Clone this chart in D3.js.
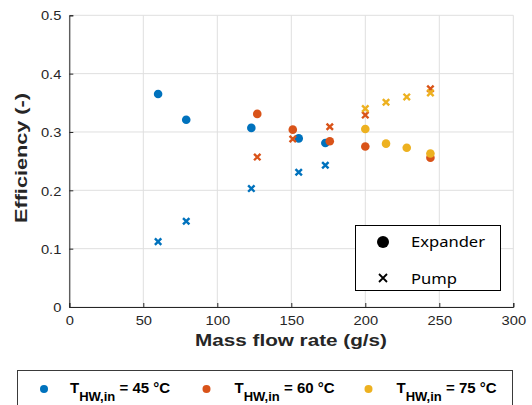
<!DOCTYPE html>
<html><head><meta charset="utf-8">
<script src="https://cdn.jsdelivr.net/npm/d3@7"></script>
<style>body{margin:0;background:#fff}svg{display:block}</style>
</head><body>
<svg id="c" width="532" height="405"></svg>
<script>
// ---- data ----
const seriesNames = ["45", "60", "75"];
const seriesColors = ["#0072BD", "#D95319", "#EDB120"];
const flow45 = [60, 79, 123, 155, 173];
const exp45  = [0.365, 0.321, 0.307, 0.289, 0.281];
const pump45 = [0.112, 0.147, 0.203, 0.231, 0.243];
const flow60 = [127, 151, 176, 200, 244];
const exp60  = [0.331, 0.304, 0.284, 0.275, 0.256];
const pump60 = [0.257, 0.288, 0.309, 0.329, 0.374];
const flow75 = [200, 214, 228, 244];
const exp75  = [0.305, 0.280, 0.273, 0.263];
const pump75 = [0.340, 0.351, 0.360, 0.367];
const xTicks = [0, 50, 100, 150, 200, 250, 300];
const yTicks = [0, 0.1, 0.2, 0.3, 0.4, 0.5];
const xLabel = "Mass flow rate (g/s)";
const yLabel = "Efficiency (-)";

const series = [
  {name: seriesNames[0], color: seriesColors[0], flow: flow45, exp: exp45, pump: pump45},
  {name: seriesNames[1], color: seriesColors[1], flow: flow60, exp: exp60, pump: pump60},
  {name: seriesNames[2], color: seriesColors[2], flow: flow75, exp: exp75, pump: pump75}
];

const svg = d3.select("#c");
const x = d3.scaleLinear().domain([0, 300]).range([69.3, 513.3]);
const y = d3.scaleLinear().domain([0, 0.5]).range([307, 15.3]);
const tickFont = "'Liberation Sans', Arial, sans-serif";

// grid
const grid = svg.append("g");
grid.selectAll(".gx").data(xTicks).join("line")
  .attr("x1", d => x(d)).attr("x2", d => x(d)).attr("y1", y(0)).attr("y2", y(0.5))
  .attr("stroke", "#dfdfdf").attr("stroke-width", 1);
grid.selectAll(".gy").data(yTicks).join("line")
  .attr("x1", x(0)).attr("x2", x(300)).attr("y1", d => y(d)).attr("y2", d => y(d))
  .attr("stroke", "#dfdfdf").attr("stroke-width", 1);

// axes
const xAxis = svg.append("g").attr("transform", `translate(0,${y(0)})`)
  .call(d3.axisBottom(x).tickValues(xTicks).tickSize(-4).tickPadding(9).tickFormat(d3.format("d")));
const yAxis = svg.append("g").attr("transform", `translate(${x(0)},0)`)
  .call(d3.axisLeft(y).tickValues(yTicks).tickSize(-4).tickPadding(8).tickFormat(d => d === 0 ? "0" : d3.format(".1f")(d)));
[xAxis, yAxis].forEach(a => {
  a.select(".domain").attr("stroke", "#262626");
  a.selectAll(".tick line").attr("stroke", "#262626");
  a.selectAll(".tick text").attr("fill", "#262626").style("font-family", tickFont).style("font-size", "13px");
});
yAxis.selectAll(".tick text").attr("dy", "0.36em");
xAxis.selectAll(".tick text").attr("dy", "0.72em");
[xAxis, yAxis].forEach(a => a.selectAll(".tick text").each(function(){
  const w = this.getComputedTextLength();
  d3.select(this).attr("textLength", w * 1.13).attr("lengthAdjust", "spacingAndGlyphs");
}));

// axis labels
svg.append("text").attr("x", 291).attr("y", 346).attr("text-anchor", "middle")
  .style("font-family", tickFont).style("font-size", "17px").style("font-weight", "bold")
  .attr("fill", "#262626").attr("textLength", 192).attr("lengthAdjust", "spacingAndGlyphs").text(xLabel);
svg.append("text").attr("transform", "translate(27,158) rotate(-90)").attr("text-anchor", "middle")
  .style("font-family", tickFont).style("font-size", "17px").style("font-weight", "bold")
  .attr("fill", "#262626").attr("textLength", 130).attr("lengthAdjust", "spacingAndGlyphs").text(yLabel);

// marks
const crossPath = s => `M${-s},${-s}L${s},${s}M${-s},${s}L${s},${-s}`;
const marks = svg.append("g");
series.forEach(s => {
  const g = marks.append("g");
  g.selectAll("circle").data(s.flow.map((f, i) => [f, s.exp[i]])).join("circle")
    .attr("cx", d => x(d[0])).attr("cy", d => y(d[1])).attr("r", 4.3).attr("fill", s.color);
  g.selectAll("path").data(s.flow.map((f, i) => [f, s.pump[i]])).join("path")
    .attr("transform", d => `translate(${x(d[0])},${y(d[1])})`)
    .attr("d", crossPath(3.2)).attr("stroke", s.color).attr("stroke-width", 2.4).attr("fill", "none");
});

// inner legend (marker types)
const lg = svg.append("g");
lg.append("rect").attr("x", 355.5).attr("y", 225.5).attr("width", 145).attr("height", 65)
  .attr("fill", "#fff").attr("stroke", "#000").attr("stroke-width", 1);
lg.append("circle").attr("cx", 383).attr("cy", 242).attr("r", 6).attr("fill", "#000");
lg.append("path").attr("transform", "translate(383,278)").attr("d", crossPath(4))
  .attr("stroke", "#000").attr("stroke-width", 1.8);
const lgFont = "'Noto Sans', 'Open Sans', sans-serif";
lg.append("text").attr("x", 411).attr("y", 247).style("font-family", lgFont).style("font-size", "15px")
  .attr("textLength", 74).attr("lengthAdjust", "spacingAndGlyphs").text("Expander");
lg.append("text").attr("x", 411).attr("y", 284).style("font-family", lgFont).style("font-size", "15px")
  .attr("textLength", 46).attr("lengthAdjust", "spacingAndGlyphs").text("Pump");

// bottom legend (temperatures)
const bl = svg.append("g");
bl.append("rect").attr("x", 17.5).attr("y", 370.5).attr("width", 495).attr("height", 60)
  .attr("fill", "#fff").attr("stroke", "#3a3a3a").attr("stroke-width", 1);
const entryX = [44, 206.5, 368.5];
const textX = [70, 234.5, 396.5];
series.forEach((s, i) => {
  bl.append("circle").attr("cx", entryX[i]).attr("cy", 389).attr("r", 4).attr("fill", s.color);
  const t = bl.append("text").attr("x", textX[i]).attr("y", 392.5)
    .style("font-family", tickFont).style("font-weight", "bold").style("font-size", "15px").attr("fill", "#000");
  t.append("tspan").text("T");
  t.append("tspan").attr("dy", 8.3).style("font-size", "13px").text("HW,in");
  t.append("tspan").attr("dy", -8.3).text(` = ${s.name} °C`);
});
</script>
</body></html>
